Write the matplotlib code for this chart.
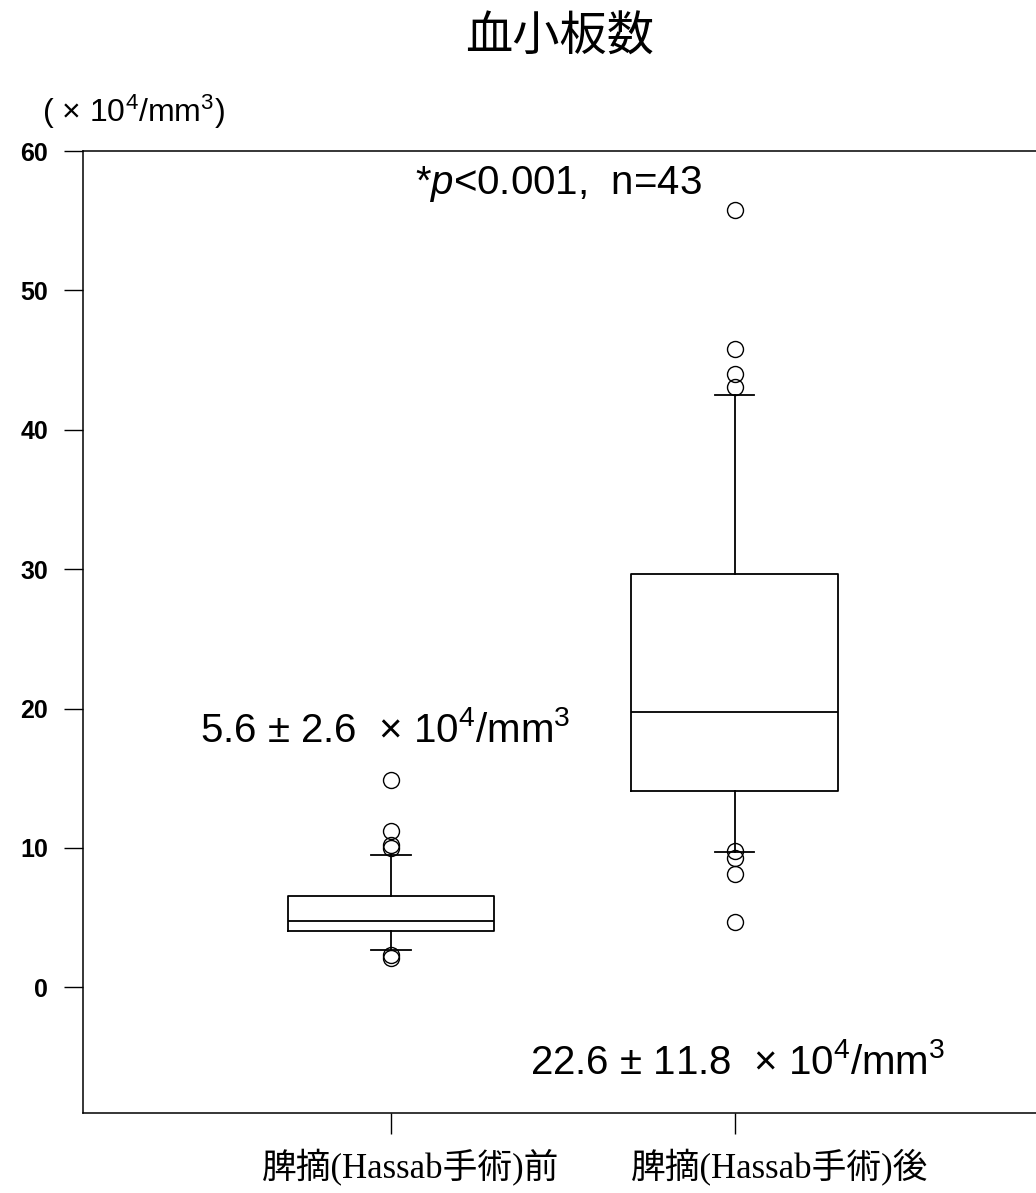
import matplotlib.pyplot as plt
from matplotlib.transforms import ScaledTranslation

plt.rcParams['font.family'] = ['Liberation Sans', 'Noto Sans CJK JP', 'DejaVu Sans']
plt.rcParams['mathtext.fontset'] = 'custom'
plt.rcParams['mathtext.rm'] = 'Liberation Sans'
plt.rcParams['mathtext.it'] = 'Liberation Sans:italic'

# platelet counts (x10^4/mm3) before / after splenectomy
groups = ['脾摘(Hassab手術)前', '脾摘(Hassab手術)後']
medians = [4.75, 19.75]
q1 = [4.05, 14.05]
q3 = [6.55, 29.65]
whisker_low = [2.65, 9.7]
whisker_high = [9.5, 42.5]
outliers = [[2.3, 2.1, 10.0, 10.2, 11.2, 14.9],
            [9.75, 9.3, 8.1, 4.65, 43.1, 44.0, 45.8, 55.8]]
mean_sd = ['5.6 ± 2.6', '22.6 ± 11.8']
yticks = [0, 10, 20, 30, 40, 50, 60]

unit = '× 10$^4$/mm$^3$'

stats = []
for i, name in enumerate(groups):
    stats.append(dict(label=name, med=medians[i], q1=q1[i], q3=q3[i],
                      whislo=whisker_low[i], whishi=whisker_high[i],
                      fliers=outliers[i]))

fig = plt.figure(figsize=(10.36, 11.93), dpi=100)
ax = fig.add_axes([0.0801, 0.0673, 0.9199, 0.8061])

lw = 1.3
ax.bxp(stats, positions=[1, 2], widths=0.6, capwidths=0.115,
       boxprops=dict(color='black', linewidth=lw),
       medianprops=dict(color='black', linewidth=lw),
       whiskerprops=dict(color='black', linewidth=lw),
       capprops=dict(color='black', linewidth=lw),
       flierprops=dict(marker='o', markersize=11.5, markerfacecolor='none',
                       markeredgecolor='black', markeredgewidth=1.0))

ax.set_xlim(0.1045, 2.877)
ax.set_ylim(-9, 60)
ax.set_yticks(yticks)
ax.set_yticklabels([str(t) for t in yticks], fontsize=18, fontweight='bold')
ax.set_xticks([1, 2])
ax.set_xticklabels(groups, fontsize=25, family=['Liberation Serif', 'Noto Sans CJK JP'])

ax.tick_params(axis='y', direction='out', length=14, width=1.0, pad=11)
ax.tick_params(axis='x', direction='out', length=15, width=1.0, pad=11)

# group labels sit a little right of their ticks
for lab, dx in zip(ax.get_xticklabels(), [20, 45]):
    lab.set_transform(lab.get_transform() + ScaledTranslation(dx / 100, 0, fig.dpi_scale_trans))

ax.spines['right'].set_visible(False)
for side in ['left', 'top', 'bottom']:
    ax.spines[side].set_linewidth(1.1)

ax.text(0.445, 18.45, mean_sd[0] + '  ' + unit, fontsize=29, va='center', ha='left')
ax.text(1.405, -5.4, mean_sd[1] + '  ' + unit, fontsize=29, va='center', ha='left')
ax.text(1.07, 57.6, '*$p$<0.001,  n=43', fontsize=29, va='center', ha='left')

fig.text(0.54, 0.969, '血小板数', fontsize=34, ha='center', va='center',
         family=['Noto Sans CJK JP'])
fig.text(0.129, 0.906, '( ' + unit + ')', fontsize=23, ha='center', va='center')

fig.savefig('out.png', dpi=100)
